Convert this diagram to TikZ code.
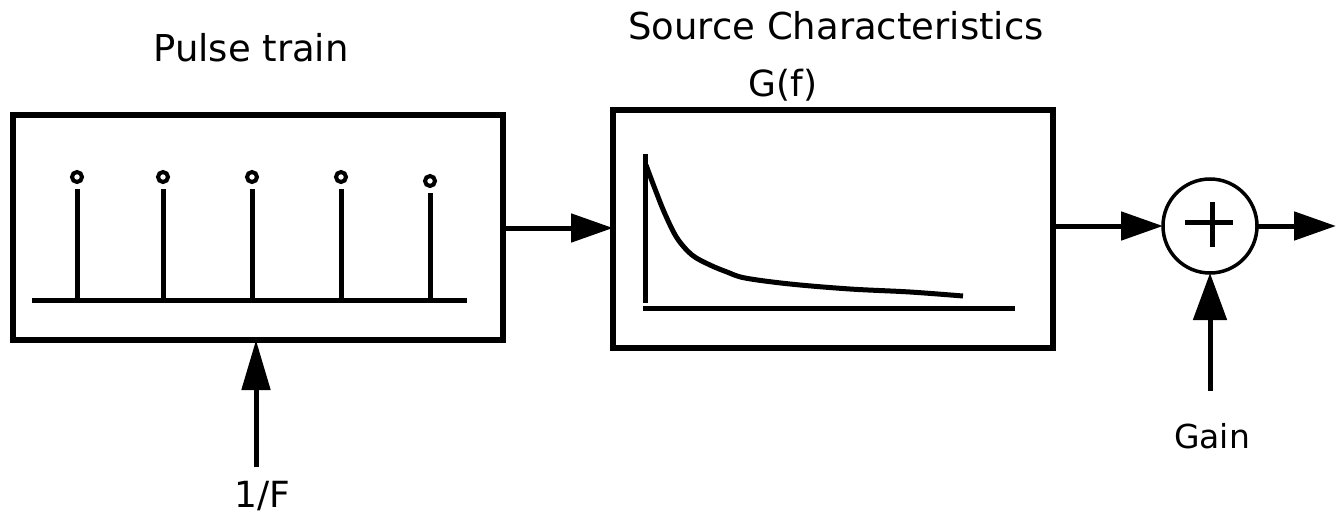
\documentclass[tikz,border=0pt]{standalone}
\usepackage{fontspec}
\setmainfont{DejaVu Sans}
\usetikzlibrary{arrows.meta,calc}
\begin{document}
\begin{tikzpicture}[x=1pt,y=-1pt,
  box/.style={draw=black,line width=6pt,rectangle,inner sep=0pt,outer sep=0pt},
  conn/.style={line width=5pt,-{Triangle[length=42pt,width=28pt]}},
  lbl/.style={anchor=base,inner sep=0pt,font=\fontsize{37}{40}\selectfont},
  thick4/.style={line width=5pt}]
\useasboundingbox (0,0) rectangle (1336,514);
% blocks
\node[box,minimum width=490pt,minimum height=225pt] (pulse) at (258,227.5) {};
\node[box,minimum width=440pt,minimum height=238pt] (src) at (833,229) {};
\node[draw=black,circle,line width=3.5pt,minimum size=94pt,inner sep=0pt,outer sep=0pt] (sum) at (1210,226) {};
% labels
\node[lbl] (lpulse) at (251,61) {Pulse train};
\node[lbl] (lsrc) at (836,39) {Source Characteristics};
\node[lbl,font=\fontsize{36}{40}\selectfont] (lg) at (783,96) {G(f)};
\node[lbl,font=\fontsize{33}{36}\selectfont] (lgain) at (1212,448) {Gain};
\node[lbl,font=\fontsize{36}{40}\selectfont] (lf) at (262,507) {1/F};
% pulse train contents
\draw[thick4] (32,300) -- (467,300);
\foreach \x/\t in {77/189,163/189,252/189,341/189,430/193}{
  \draw[thick4] (\x,300) -- (\x,\t);
  \draw[line width=4pt] (\x,\t-12) circle[radius=5pt];
}
% source characteristic curve
\draw[thick4] (645,154) -- (645,303);
\draw[thick4] (643,308) -- (1015,308);
\draw[line width=5pt,line join=round] plot[smooth,tension=0.55] coordinates
  {(646,165) (655,189) (665,214) (677,238) (692,255) (710,265) (727,272) (745,278) (790,284) (850,289) (910,292) (963,296)};
% plus sign
\draw[thick4] ($(sum.center)+(-25,-4)$) -- ($(sum.center)+(23,-4)$);
\draw[thick4] ($(sum.center)+(2,-24)$) -- ($(sum.center)+(2,21)$);
% connectors
\coordinate (out) at (1336,226);
\coordinate (gin) at (1210,391);
\coordinate (fin) at (256,467);
\draw[conn] (pulse.east |- 0,228) -- (src.west |- 0,228);
\draw[conn] (src.east |- sum) -- (sum.west);
\draw[conn] (sum.east) -- (out);
\draw[conn,-{Triangle[length=47pt,width=33pt]}] (gin) -- (sum.south);
\draw[conn,-{Triangle[length=50pt,width=28pt]}] (fin) -- (fin |- pulse.south);
\end{tikzpicture}
\end{document}
